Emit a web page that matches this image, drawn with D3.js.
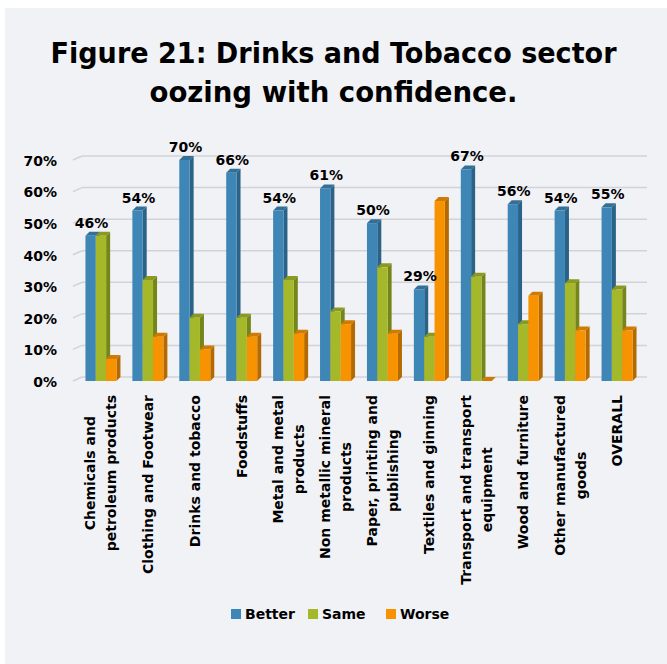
<!DOCTYPE html>
<html>
<head>
<meta charset="utf-8">
<script src="https://cdn.jsdelivr.net/npm/d3@7"></script>
<style>
  body { margin: 0; background: #fff; }
  text { font-family: 'DejaVu Sans', sans-serif; font-weight: bold; fill: #000; }
</style>
</head>
<body>
<div id="figure-container"></div>
<script>
// chart data
const categories = [
  ['Chemicals and', 'petroleum products'],
  ['Clothing and Footwear'],
  ['Drinks and tobacco'],
  ['Foodstuffs'],
  ['Metal and metal', 'products'],
  ['Non metallic mineral', 'products'],
  ['Paper, printing and', 'publishing'],
  ['Textiles and ginning'],
  ['Transport and transport', 'equipment'],
  ['Wood and furniture'],
  ['Other manufactured', 'goods'],
  ['OVERALL']
];
const seriesNames = ['Better', 'Same', 'Worse'];
const better = [46, 54, 70, 66, 54, 61, 50, 29, 67, 56, 54, 55];
const same   = [46, 32, 20, 20, 32, 22, 36, 14, 33, 18, 31, 29];
const worse  = [7, 14, 10, 14, 15, 18, 15, 57, 0, 27, 16, 16];
const yTicks = [0, 10, 20, 30, 40, 50, 60, 70];
const titleLines = ['Figure 21: Drinks and Tobacco sector', 'oozing with confidence.'];

const colors = {
  Better: {front: '#3d86b5', side: '#2b6287', top: '#336f96'},
  Same:   {front: '#a5b82a', side: '#75851a', top: '#8a9a20'},
  Worse:  {front: '#f79300', side: '#b46a00', top: '#cf7a00'}
};

const W = 667, H = 664;
const depth = {dx: 4, dy: -4};

const svg = d3.select('#figure-container')
  .append('svg')
  .attr('width', W)
  .attr('height', H);

svg.append('rect')
  .attr('x', 5).attr('y', 8)
  .attr('width', W - 5).attr('height', H - 8)
  .attr('fill', '#f1f2f6');

// title
svg.append('g').selectAll('text')
  .data(titleLines)
  .enter().append('text')
    .attr('x', W / 2)
    .attr('y', (d, i) => 63 + i * 39)
    .attr('text-anchor', 'middle')
    .attr('textLength', (d, i) => i === 0 ? 566 : 368)
    .attr('lengthAdjust', 'spacingAndGlyphs')
    .style('font-size', '28px')
    .text(d => d);

const x = d3.scaleBand()
  .domain(d3.range(categories.length))
  .range([77.5, 640.5]);

const xSub = d3.scaleBand()
  .domain(seriesNames)
  .range([(x.bandwidth() - 31) / 2, (x.bandwidth() + 31) / 2]);

const y = d3.scaleLinear()
  .domain([0, 70])
  .range([381, 160]);

// gridlines (back wall + side wall slant)
const grid = svg.append('g').attr('class', 'grid');
yTicks.forEach(t => {
  grid.append('line')
    .attr('x1', 73).attr('y1', y(t))
    .attr('x2', 82).attr('y2', y(t) + depth.dy)
    .attr('stroke', '#d2d3d8').attr('stroke-width', 1.5);
  grid.append('line')
    .attr('x1', 82).attr('y1', y(t) + depth.dy)
    .attr('x2', 647).attr('y2', y(t) + depth.dy)
    .attr('stroke', '#d2d3d8').attr('stroke-width', 1.5);
});

// y axis labels
svg.append('g').selectAll('text')
  .data(yTicks)
  .enter().append('text')
    .attr('x', 57)
    .attr('y', d => y(d) + 1)
    .attr('dy', '0.35em')
    .attr('text-anchor', 'end')
    .style('font-size', '14px')
    .text(d => d + '%');

// bars
const seriesData = {Better: better, Same: same, Worse: worse};
const bars = svg.append('g').attr('class', 'data-area');
categories.forEach((c, i) => {
  seriesNames.forEach(s => {
    const v = seriesData[s][i];
    const x0 = x(i) + xSub(s);
    const w = xSub.bandwidth();
    const yv = y(v), y0 = y(0);
    const g = bars.append('g');
    g.append('polygon')
      .attr('points', [[x0 + w, yv], [x0 + w + depth.dx, yv + depth.dy],
        [x0 + w + depth.dx, y0 + depth.dy], [x0 + w, y0]].join(' '))
      .attr('fill', colors[s].side);
    g.append('polygon')
      .attr('points', [[x0, yv], [x0 + depth.dx, yv + depth.dy],
        [x0 + w + depth.dx, yv + depth.dy], [x0 + w, yv]].join(' '))
      .attr('fill', colors[s].top);
    g.append('rect')
      .attr('x', x0).attr('y', yv)
      .attr('width', w).attr('height', y0 - yv)
      .attr('fill', colors[s].front);
  });
});

// data labels for Better
svg.append('g').selectAll('text')
  .data(better)
  .enter().append('text')
    .attr('x', (d, i) => x(i) + xSub('Better') + xSub.bandwidth() / 2 + 1)
    .attr('y', d => y(d) - 8)
    .attr('text-anchor', 'middle')
    .style('font-size', '14px')
    .text(d => d + '%');

// x axis labels, rotated, block top-aligned, lines centred
const lineGap = 21;
const xl = svg.append('g').selectAll('text')
  .data(categories)
  .enter().append('text')
    .attr('transform', (d, i) => `translate(${x(i) + x.bandwidth() / 2},395) rotate(-90)`)
    .attr('text-anchor', 'middle')
    .style('font-size', '14px');
xl.each(function(lines) {
  const t = d3.select(this);
  lines.forEach((ln, j) => {
    t.append('tspan')
      .attr('x', 0)
      .attr('y', (j - (lines.length - 1) / 2) * lineGap + 5)
      .text(ln);
  });
  let L = 0;
  t.selectAll('tspan').each(function() { L = Math.max(L, this.getComputedTextLength()); });
  t.selectAll('tspan').attr('x', -L / 2);
});

// legend
const legendX = {Better: 231, Same: 308, Worse: 386};
const legend = svg.append('g').selectAll('g')
  .data(seriesNames)
  .enter().append('g')
    .attr('transform', d => `translate(${legendX[d]},609)`);
legend.append('rect')
  .attr('width', 10).attr('height', 10)
  .attr('fill', d => colors[d].front);
legend.append('text')
  .attr('x', 14).attr('y', 10)
  .style('font-size', '14px')
  .text(d => d);
</script>
</body>
</html>
